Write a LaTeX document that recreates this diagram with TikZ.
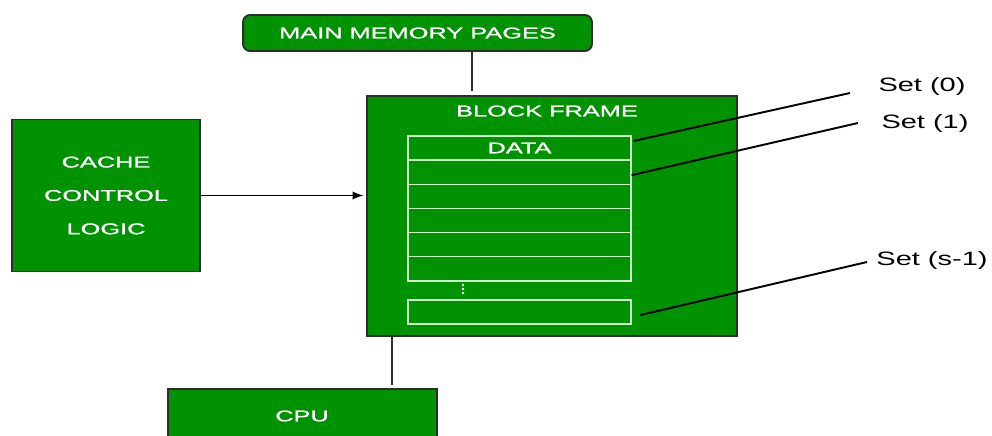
\documentclass[tikz,border=0pt]{standalone}
\usepackage{fontspec}
\setmainfont{Liberation Sans}
\newfontfamily\boxfont[FakeStretch=1.64,FakeBold=1.2]{Liberation Sans}
\newfontfamily\setfont[FakeStretch=1.5]{Liberation Sans}
\usetikzlibrary{calc,shapes}
\definecolor{gfgGreen}{RGB}{0,146,0}
\definecolor{boxEdge}{RGB}{45,45,45}
\definecolor{rowEdge}{RGB}{205,240,205}

\begin{document}
\begin{tikzpicture}[x=0.02cm,y=-0.02cm,
    greenbox/.style={draw=boxEdge,fill=gfgGreen,line width=1.1pt},
    boxtext/.style={text=white,font=\boxfont\fontsize{8.8}{19}\selectfont},
    rowbox/.style={draw=rowEdge,line width=0.7pt,minimum width=4.46cm,minimum height=0.483cm,inner sep=0pt},
    dot/.style={circle,fill=white,inner sep=0pt,minimum size=1.6pt},
    settext/.style={font=\setfont\fontsize{11}{13}\selectfont},
    link/.style={draw=boxEdge,line width=1.7pt},
    setline/.style={draw=black,line width=1.1pt}]
                      \useasboundingbox (0,0) rectangle (992,436);
                      \node[greenbox,rounded corners=4pt,minimum width=6.98cm,minimum height=0.72cm,boxtext] (Mem) at (417.5,33) {MAIN MEMORY PAGES};
                      \node[greenbox,minimum width=7.4cm,minimum height=4.8cm] (Frame) at (552,216) {};
                      \node[boxtext] (FrameLabel) at (547,111) {BLOCK FRAME};
                      \node[greenbox,minimum width=3.76cm,minimum height=3.04cm,boxtext,align=center] (Cache) at (106,195.5) {CACHE\\CONTROL\\LOGIC};
                      \node[greenbox,minimum width=5.38cm,minimum height=1.4cm] (CPU) at (302.5,424) {};
                      \node[boxtext] (CPULabel) at (302,416) {CPU};
                      \node[rowbox,boxtext] (Row0) at (519.5,148) {DATA};
                      \foreach \i in {1,...,5}
                        \node[rowbox] (Row\i) at (519.5,148+24.17*\i) {};
                      \foreach \i in {0,1,2}
                        \node[dot] (Dot\i) at (463,285+4*\i) {};
                      \node[rowbox] (RowLast) at (519.5,312) {};
                      \node[settext] (Set0) at (922,86) {Set (0)};
                      \node[settext] (Set1) at (925,123) {Set (1)};
                      \node[settext] (SetS) at (932,260) {Set (s-1)};
                      \coordinate (End0) at (850,93);
                      \coordinate (End1) at (858,123);
                      \coordinate (EndS) at (867,262);
                      \coordinate (MemDrop) at (472,91);
                      \coordinate (CPUUp) at (392,385);
                      \draw[link] (Mem.south -| MemDrop) -- (MemDrop);
                      \draw[link] (Frame.south -| CPUUp) -- (CPUUp);
                      \draw[setline,->,>=latex,shorten >=1.5pt] (Cache.east) -- (Cache.east -| Frame.west);
                      \draw[setline] ([xshift=0.04cm,yshift=4pt]Row0.east) -- (End0);
                      \draw[setline] ([yshift=-1.7pt]Row1.east) -- (End1);
                      \draw[setline] ([xshift=0.18cm,yshift=-1.7pt]RowLast.east) -- (EndS);
                    \end{tikzpicture}
\end{document}
